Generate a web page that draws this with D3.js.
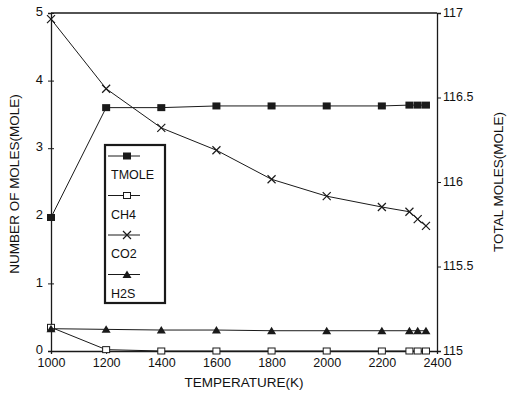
<!DOCTYPE html>
<html>
<head>
<meta charset="utf-8">
<script src="https://cdn.jsdelivr.net/npm/d3@7"></script>
<style>
body { margin: 0; background: #fff; }
text { font-family: "Liberation Sans", Arial, sans-serif; fill: #111; }
</style>
</head>
<body>
<div class="chart"></div>
<script>
const w = 510;
const h = 397;
const margin = { top: 13, right: 73, bottom: 46, left: 51 };

// data
const temps = [1000, 1200, 1400, 1600, 1800, 2000, 2200, 2300, 2330, 2360];
const tmole = [115.79, 116.44, 116.44, 116.45, 116.45, 116.45, 116.45, 116.455, 116.455, 116.455];
const ch4 = [0.35, 0.02, 0, 0, 0, 0, 0, 0, 0, 0];
const co2 = [4.91, 3.88, 3.30, 2.97, 2.54, 2.29, 2.13, 2.06, 1.95, 1.85];
const h2s = [0.33, 0.32, 0.31, 0.31, 0.30, 0.30, 0.30, 0.30, 0.30, 0.30];
const xTicks = [1000, 1200, 1400, 1600, 1800, 2000, 2200, 2400];
const yTicks = [0, 1, 2, 3, 4, 5];
const y2Ticks = [115, 115.5, 116, 116.5, 117];
const legendNames = ["TMOLE", "CH4", "CO2", "H2S"];

const svg = d3.select(".chart")
    .append("svg")
    .attr("width", w)
    .attr("height", h);

const x = d3.scaleLinear().domain([1000, 2400]).range([margin.left, w - margin.right]);
const y = d3.scaleLinear().domain([0, 5]).range([h - margin.bottom, margin.top]);
const y2 = d3.scaleLinear().domain([115, 117]).range([h - margin.bottom, margin.top]);

const ink = "#1a1a1a";

// axes
const gx = svg.append("g")
    .attr("transform", `translate(0,${h - margin.bottom})`)
    .call(d3.axisBottom(x).tickValues(xTicks).tickFormat(d3.format("d")).tickSize(3).tickPadding(4));
gx.selectAll(".tick line").attr("y1", -3);

const gy = svg.append("g")
    .attr("transform", `translate(${margin.left},0)`)
    .call(d3.axisLeft(y).tickValues(yTicks).tickFormat(d3.format("d")).tickSize(3).tickPadding(5));
gy.selectAll(".tick line").attr("x1", 3);
gy.selectAll(".tick text").attr("dy", "0.2em");

const gy2 = svg.append("g")
    .attr("transform", `translate(${w - margin.right},0)`)
    .call(d3.axisRight(y2).tickValues(y2Ticks).tickFormat(d => d).tickSize(4).tickPadding(2));
gy2.selectAll(".tick text").attr("dy", "0.25em");

svg.selectAll(".domain").attr("stroke", ink).attr("stroke-width", 1.3);
svg.selectAll(".tick line").attr("stroke", ink);
svg.selectAll(".tick text").style("font-size", "13px").attr("fill", ink);
gx.selectAll(".tick text").style("font-size", "12.5px");
gy2.selectAll(".tick text").style("font-size", "12.5px");

// top frame line
svg.append("line")
    .attr("x1", margin.left).attr("x2", w - margin.right)
    .attr("y1", margin.top).attr("y2", margin.top)
    .attr("stroke", ink).attr("stroke-width", 1.3);

// axis titles
svg.append("text")
    .attr("x", x(1700))
    .attr("y", 387)
    .attr("text-anchor", "middle")
    .style("font-size", "13.5px")
    .text("TEMPERATURE(K)");

svg.append("text")
    .attr("transform", `translate(19,${y(2.5) + 2}) rotate(-90)`)
    .attr("text-anchor", "middle")
    .style("font-size", "13.5px")
    .text("NUMBER OF MOLES(MOLE)");

svg.append("text")
    .attr("transform", `translate(503,${y(2.5)}) rotate(-90)`)
    .attr("text-anchor", "middle")
    .style("font-size", "13.5px")
    .text("TOTAL MOLES(MOLE)");

// series
const series = [
    { name: "TMOLE", vals: tmole, scale: y2, shape: "fsquare" },
    { name: "CH4", vals: ch4, scale: y, shape: "osquare" },
    { name: "CO2", vals: co2, scale: y, shape: "cross" },
    { name: "H2S", vals: h2s, scale: y, shape: "triangle" }
];

function drawMarker(g, shape) {
    if (shape === "fsquare") {
        g.append("rect").attr("x", -4).attr("y", -3.5).attr("width", 8).attr("height", 7).attr("fill", ink);
    } else if (shape === "osquare") {
        g.append("rect").attr("x", -3.5).attr("y", -3).attr("width", 7).attr("height", 6)
            .attr("fill", "#fff").attr("stroke", ink).attr("stroke-width", 1);
    } else if (shape === "cross") {
        g.append("path").attr("d", "M-4,-4L4,4M-4,4L4,-4").attr("stroke", ink).attr("stroke-width", 1.2).attr("fill", "none");
    } else {
        g.append("path").attr("d", "M0,-4L4.5,3.5L-4.5,3.5Z").attr("fill", ink);
    }
}

series.forEach(s => {
    const line = d3.line()
        .x((d, i) => x(temps[i]))
        .y(d => s.scale(d));
    svg.append("path")
        .datum(s.vals)
        .attr("d", line)
        .attr("fill", "none")
        .attr("stroke", ink)
        .attr("stroke-width", 1);
    svg.append("g")
        .selectAll("g")
        .data(s.vals)
        .enter()
        .append("g")
        .attr("transform", (d, i) => `translate(${x(temps[i])},${s.scale(d)})`)
        .each(function () { drawMarker(d3.select(this), s.shape); });
});

// legend
const legend = svg.append("g").attr("transform", "translate(105,145)");
legend.append("rect")
    .attr("width", 60).attr("height", 158)
    .attr("fill", "#fff").attr("stroke", ink).attr("stroke-width", 2.2);

const item = legend.selectAll("g.item")
    .data(series)
    .enter()
    .append("g")
    .attr("class", "item")
    .attr("transform", (d, i) => `translate(0,${11 + i * 39.5})`);

item.append("line")
    .attr("x1", 3).attr("x2", 35)
    .attr("stroke", ink).attr("stroke-width", 1);
item.append("g")
    .attr("transform", "translate(22,0)")
    .each(function (d) { drawMarker(d3.select(this), d.shape); });
item.append("text")
    .attr("x", 6)
    .attr("y", 23)
    .style("font-size", "12.5px")
    .text((d, i) => legendNames[i]);
</script>
</body>
</html>
